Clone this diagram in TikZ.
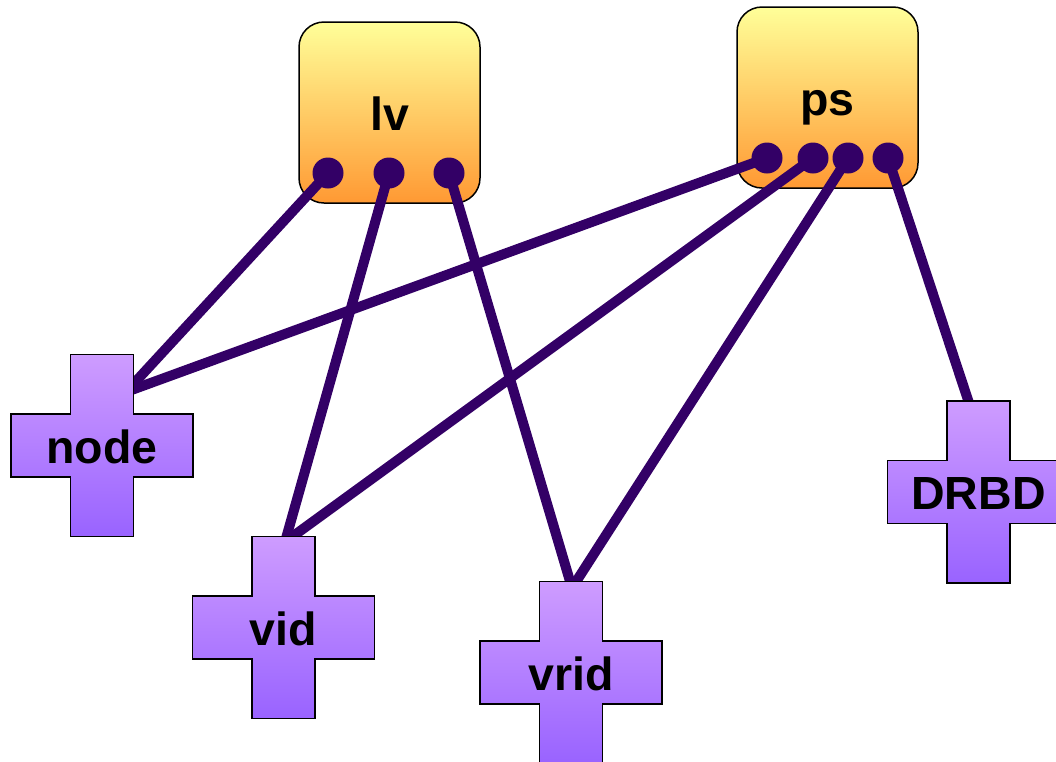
\documentclass[tikz,border=0pt]{standalone}
\usepackage{fontspec}
\setmainfont{Liberation Sans}
\definecolor{boxtop}{RGB}{255,255,153}
\definecolor{boxbot}{RGB}{255,153,51}
\definecolor{crosstop}{RGB}{206,156,255}
\definecolor{crossbot}{RGB}{153,99,255}
\definecolor{wire}{RGB}{51,0,102}
\newcommand\crossat[2]{%
  \path[crossfill] ($(#1)+(-31.5,-91)$) -- ++(63,0) -- ++(0,59.5) -- ++(59.5,0) -- ++(0,63)
    -- ++(-59.5,0) -- ++(0,59.5) -- ++(-63,0) -- ++(0,-59.5) -- ++(-59.5,0) -- ++(0,-63)
    -- ++(59.5,0) -- cycle;
  \node[lbl] at ($(#1)+(0,17.5)$) {#2};}
\usetikzlibrary{calc}
\begin{document}
\begin{tikzpicture}[x=1pt,y=-1pt,
  box/.style={draw=black,line width=1.5pt,rounded corners=25pt,top color=boxtop,bottom color=boxbot,
    minimum width=181pt,minimum height=181pt,inner sep=0pt},
  crossfill/.style={draw=black,line width=1.5pt,top color=crosstop,bottom color=crossbot},
  lbl/.style={anchor=base,font=\fontsize{46.5}{50}\selectfont\bfseries,text=black,inner sep=0pt},
  dot/.style={circle,fill=wire,minimum size=31pt,inner sep=0pt},
  wireline/.style={draw=wire,line width=10pt}]
\useasboundingbox (0,0) rectangle (1056,761);
% boxes
\node[box] (lv) at (389.5,112.5) {};
\node[box] (ps) at (827.5,97.5) {};
\node[lbl] (lvlabel) at ($(lv.center)+(0,17.5)$) {lv};
\node[lbl] (pslabel) at ($(ps.center)+(0,17.5)$) {ps};
% ports
\coordinate (lv1) at (328,173);
\coordinate (lv2) at (389,173);
\coordinate (lv3) at (449,173);
\coordinate (ps1) at (767,158);
\coordinate (ps2) at (813,158);
\coordinate (ps3) at (848,158);
\coordinate (ps4) at (888,158);
% cross centres and wire ends
\coordinate (nodeC) at (102,445.5);
\coordinate (vidC) at (283.5,627.5);
\coordinate (vridC) at (571,672.5);
\coordinate (drbdC) at (978.5,492);
\coordinate (nodeT) at (126,392);
\coordinate (vidT) at (285,542);
\coordinate (vridT) at (572,588);
\coordinate (drbdT) at (970,406);
% wires
\draw[wireline] (lv1) -- (nodeT);
\draw[wireline] (lv2) -- (vidT);
\draw[wireline] (lv3) -- (vridT);
\draw[wireline] (ps1) -- (nodeT);
\draw[wireline] (ps2) -- (vidT);
\draw[wireline] (ps3) -- (vridT);
\draw[wireline] (ps4) -- (drbdT);
% dots
\foreach \p in {lv1,lv2,lv3,ps1,ps2,ps3,ps4} \node[dot] (d\p) at (\p) {};
% crosses
\crossat{nodeC}{node}
\crossat{vidC}{vid}
\crossat{vridC}{vrid}
\crossat{drbdC}{DRBD}
\end{tikzpicture}
\end{document}
